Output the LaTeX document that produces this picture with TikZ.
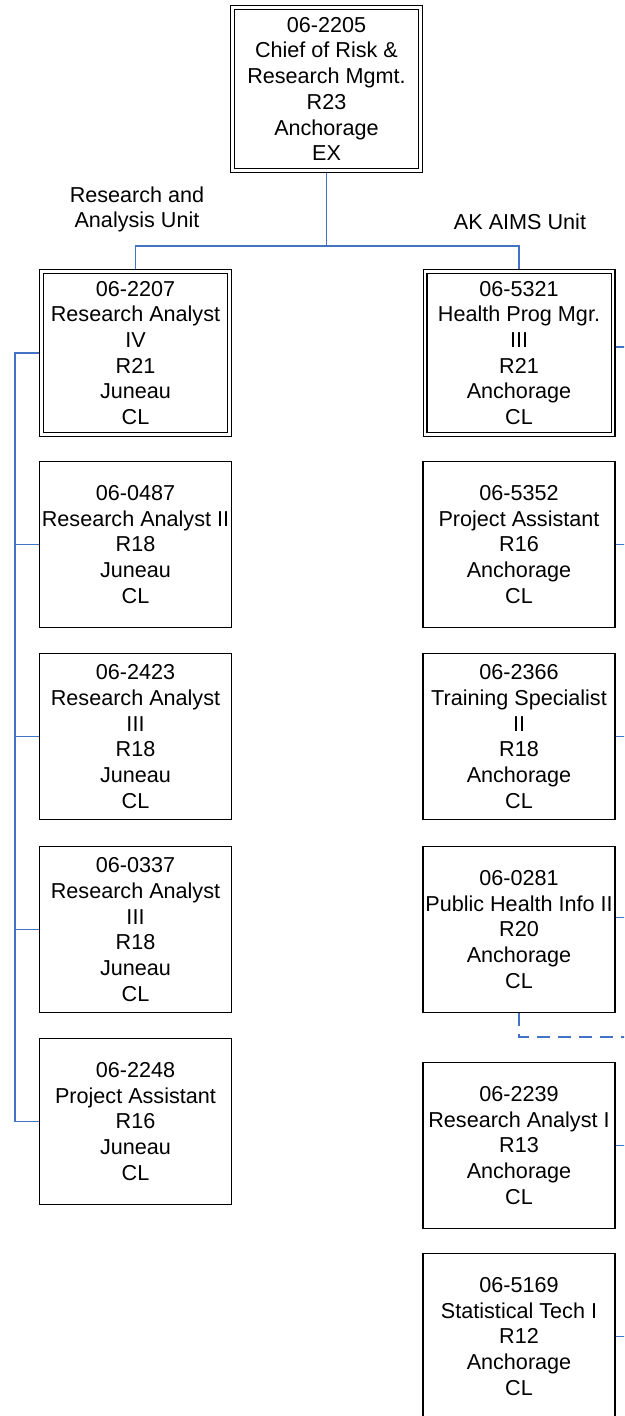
\documentclass[tikz,border=0pt]{standalone}
\usepackage{fontspec}
\setmainfont{Liberation Sans}
\definecolor{linkblue}{RGB}{68,114,196}
\begin{document}
\begin{tikzpicture}[x=1pt,y=-1pt,
    txt/.style={font=\fontsize{21.6}{25.7}\selectfont,align=center,inner sep=0pt},
    box/.style={txt,draw=black,line width=1.3pt,minimum width=192pt,minimum height=166pt},
    dbox/.style={txt,draw=black,line width=1.2pt,double=white,double distance=2.6pt,
                 minimum width=188pt,minimum height=163pt,outer sep=2.5pt},
    conn/.style={draw=linkblue,line width=1.6pt}]
    \useasboundingbox (0,0) rectangle (624,1416);
    \clip (0,0) rectangle (624,1416);
    % head of the division
    \node[dbox] (chief) at (326.5,89) {06-2205\\Chief of Risk \&\\Research Mgmt.\\R23\\Anchorage\\EX};
    \node[txt] (raunit) at (137,209.5) {Research and\\Analysis Unit};
    \node[txt] (akunit) at (520,222) {AK AIMS Unit};
    % Research and Analysis Unit
    \node[dbox] (ra1) at (135.5,353) {06-2207\\Research Analyst\\IV\\R21\\Juneau\\CL};
    \node[box] (ra2) at (135.5,544.5) {06-0487\\Research Analyst II\\R18\\Juneau\\CL};
    \node[box] (ra3) at (135.5,736.5) {06-2423\\Research Analyst\\III\\R18\\Juneau\\CL};
    \node[box] (ra4) at (135.5,929.5) {06-0337\\Research Analyst\\III\\R18\\Juneau\\CL};
    \node[box] (ra5) at (135.5,1121.5) {06-2248\\Project Assistant\\R16\\Juneau\\CL};
    % AK AIMS Unit
    \node[dbox] (ak1) at (519,353) {06-5321\\Health Prog Mgr.\\III\\R21\\Anchorage\\CL};
    \node[box] (ak2) at (519,544.5) {06-5352\\Project Assistant\\R16\\Anchorage\\CL};
    \node[box] (ak3) at (519,736.5) {06-2366\\Training Specialist\\II\\R18\\Anchorage\\CL};
    \node[box] (ak4) at (519,929.5) {06-0281\\Public Health Info II\\R20\\Anchorage\\CL};
    \node[box] (ak5) at (519,1145.5) {06-2239\\Research Analyst I\\R13\\Anchorage\\CL};
    \node[box] (ak6) at (519,1336.5) {06-5169\\Statistical Tech I\\R12\\Anchorage\\CL};
    % connectors
    \coordinate (bus) at (326.5,246);
    \draw[conn] (chief.south) -- (bus);
    \draw[conn] (ra1.north) |- (bus) -| (ak1.north);
    \coordinate (lspine) at (15,1121.5);
    \draw[conn] (ra1.west) -| (lspine) -- (ra5.west);
    \foreach \i in {2,3,4}
        \draw[conn] (ra\i.west) -- (ra\i.west -| lspine);
    \foreach \i/\s in {1/6,2/0,3/0,4/12,5/0,6/0}
        \draw[conn] ([yshift=\s pt]ak\i.east) -- +(14,0);
    \coordinate (dashend) at (630,1037);
    \draw[conn,dash pattern=on 13pt off 8pt] (ak4.south) |- (dashend);
\end{tikzpicture}
\end{document}
